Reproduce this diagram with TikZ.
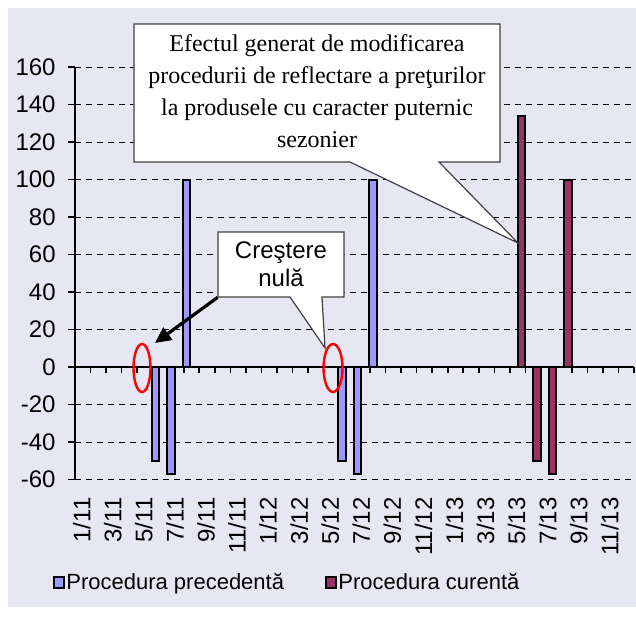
\documentclass[tikz,border=0pt]{standalone}
\usepackage{fontspec}
\setmainfont{Liberation Serif}
\setsansfont{Liberation Sans}
\usetikzlibrary{shapes.geometric,arrows.meta}
\definecolor{chartbg}{RGB}{231,231,243}
\definecolor{prevbar}{RGB}{153,153,255}
\definecolor{currbar}{RGB}{153,51,102}
\tikzset{
	grid line/.style={dash pattern=on 3pt off 2.5pt, line width=0.5pt},
	axis line/.style={line width=0.8pt},
	prev/.style={fill=prevbar, draw=black, line width=1pt},
	curr/.style={fill=currbar, draw=black, line width=1pt},
	zero mark/.style={ellipse, draw=red, line width=1.2pt, minimum width=8.5pt, minimum height=24pt, inner sep=0pt},
	callout box/.style={fill=white, draw=black!75, line width=0.6pt},
	axis label/.style={font=\sffamily\fontsize{12}{14}\selectfont, inner sep=0pt},
	legend text/.style={font=\sffamily\fontsize{11}{13}\selectfont, inner sep=0pt}
}
\begin{document}
\begin{tikzpicture}[x=0.5pt,y=-0.5pt]
		\useasboundingbox (0,0) rectangle (636,617);
		\fill[chartbg] (8,8) rectangle (636,607);
		% value grid
		\foreach \v [count=\i] in {-60,-40,...,160}{
			\draw[grid line] (75,{367-1.875*\v}) -- (634,{367-1.875*\v});
			\draw[axis line] (68,{367-1.875*\v}) -- (75,{367-1.875*\v});
			\node[axis label, anchor=east] (yl\i) at (56,{367-1.875*\v}) {\v};
		}
		\draw[axis line] (75,67) -- (75,480);
		\draw[axis line] (75,367) -- (634,367);
		\foreach \k in {1,...,36}
			\draw[axis line] ({75+15.53*\k},367) -- ({75+15.53*\k},373);
		% month labels
		\foreach \m/\yr [count=\i from 0] in {1/11,3/11,5/11,7/11,9/11,11/11,1/12,3/12,5/12,7/12,9/12,11/12,1/13,3/13,5/13,7/13,9/13,11/13}
			\node[axis label, rotate=90, anchor=east] (xl\i) at ({75+15.53*(2*\i+0.5)-1},497) {\m/\yr};
		% bars
		\foreach \k/\v in {5/-50,6/-57,7/100,17/-50,18/-57,19/100}
			\filldraw[prev] ({75+15.53*\k-1},367) rectangle ({75+15.53*\k+6.6},{367-1.875*\v});
		\foreach \k/\v in {28/134,29/-50,30/-57,31/100}
			\filldraw[curr] ({75+15.53*(\k+1)-7.5},367) rectangle ({75+15.53*(\k+1)-0.2},{367-1.875*\v});
		\node[zero mark] (zero11) at (142,368) {};
		\node[zero mark, minimum width=9.5pt] (zero12) at (333,368) {};
		% callouts
		\filldraw[callout box] (134,24) -- (500,24) -- (500,162) -- (439,162) -- (518,243) -- (350,162) -- (134,162) -- cycle;
		\node[font=\fontsize{12}{16}\selectfont, align=center] (efect) at (317,91) {Efectul generat de modificarea\\procedurii de reflectare a preţurilor\\la produsele cu caracter puternic\\sezonier};
		\filldraw[callout box] (218,232) -- (344,232) -- (344,297) -- (322,297) -- (325,348) -- (290,297) -- (218,297) -- cycle;
		\node[font=\sffamily\fontsize{12}{14}\selectfont, align=center, minimum width=63pt, minimum height=32.5pt, inner sep=0pt] (nula) at (281,264.5) {Creştere\\nulă};
		\coordinate (nulatip) at (155,343);
		\draw[line width=1.6pt, -{Triangle[length=8pt,width=7.5pt]}] (nula.south west) -- (nulatip);
		% legend
		\filldraw[prev] (54,577) rectangle (64,588);
		\node[legend text, anchor=base west] (legprev) at (66,589) {Procedura precedentă};
		\filldraw[curr] (326,577) rectangle (336,588);
		\node[legend text, anchor=base west] (legcurr) at (338,589) {Procedura curentă};
\end{tikzpicture}
\end{document}
